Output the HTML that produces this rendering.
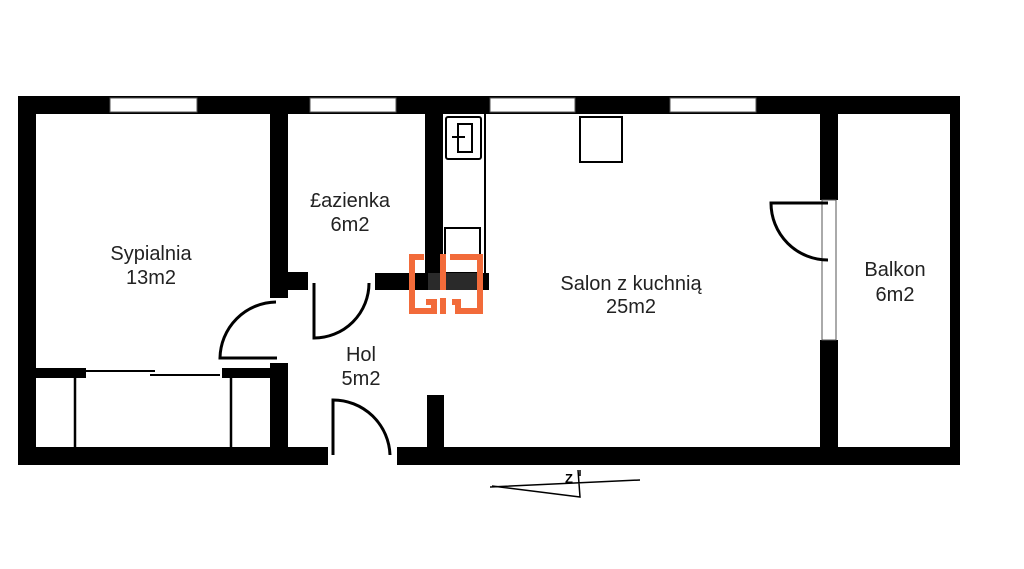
<!DOCTYPE html>
<html><head><meta charset="utf-8"><style>
html,body{margin:0;padding:0;background:#fff;width:1024px;height:569px;overflow:hidden}
svg text{font-family:"Liberation Sans","DejaVu Sans",sans-serif;font-size:20px;fill:#222;text-anchor:middle}
</style></head><body>
<svg width="1024" height="569" viewBox="0 0 1024 569" xmlns="http://www.w3.org/2000/svg">
<g fill="#000">
<rect x="18" y="96" width="942" height="18"/>
<rect x="18" y="96" width="18" height="369"/>
<rect x="18" y="447" width="310" height="18"/>
<rect x="397" y="447" width="563" height="18"/>
<rect x="950" y="96" width="10" height="369"/>
<rect x="270" y="114" width="18" height="184"/>
<rect x="270" y="272" width="38" height="18"/>
<rect x="270" y="363" width="18" height="84"/>
<rect x="425" y="114" width="18" height="176"/>
<rect x="375" y="273" width="114" height="17"/>
<rect x="427" y="395" width="17" height="52"/>
<rect x="820" y="114" width="18" height="86"/>
<rect x="820" y="340" width="18" height="107"/>
<rect x="36" y="368" width="50" height="10"/>
<rect x="222" y="368" width="48" height="10"/>
</g>
<g fill="#fff" stroke="#555" stroke-width="1">
<rect x="110" y="98" width="87" height="14"/>
<rect x="310" y="98" width="86" height="14"/>
<rect x="490" y="98" width="85" height="14"/>
<rect x="670" y="98" width="86" height="14"/>
<rect x="822" y="200" width="14" height="140"/>
</g>
<g fill="none" stroke="#000" stroke-width="2">
<line x1="485" y1="114" x2="485" y2="273"/>
<rect x="446" y="117" width="35" height="42" rx="2"/>
<path d="M458 124 H472 V152 H458 Z M452 137 H465"/>
<rect x="445" y="228" width="35" height="45"/>
<rect x="580" y="117" width="42" height="45"/>
<line x1="86" y1="371" x2="155" y2="371"/>
<line x1="150" y1="375" x2="220" y2="375"/>
<line x1="75" y1="378" x2="75" y2="447" stroke-width="2.5"/>
<line x1="231" y1="378" x2="231" y2="447" stroke-width="2.5"/>
<g stroke-width="3">
<path d="M277 358 H220 A57 57 0 0 1 276 302"/>
<path d="M314 283 V338 A55 55 0 0 0 369 283"/>
<path d="M333 455 V400 A57 57 0 0 1 390 455"/>
<path d="M828 203 H771 A57 57 0 0 0 828 260"/>
</g>
<path d="M490 487 L640 480 M492 486 L580 497 L578 470 M580 476 V470" stroke-width="1.5"/>
</g>
<text x="569" y="483" style="font-size:13px;font-weight:bold;fill:#000">Z</text>
<rect x="428" y="273" width="52" height="17" fill="#2a2a2a"/>
<g fill="none" stroke="#f26b3a" stroke-width="6">
<path d="M424 257 H412 V311 H434 V302 H426"/>
<path d="M443 254 V290 M443 298 V314"/>
<path d="M450 257 H480 V311 H458 V302 H452"/>
</g>
<text x="151" y="260">Sypialnia</text>
<text x="151" y="284">13m2</text>
<text x="350" y="207">£azienka</text>
<text x="350" y="231">6m2</text>
<text x="361" y="361">Hol</text>
<text x="361" y="385">5m2</text>
<text x="631" y="290">Salon z kuchnią</text>
<text x="631" y="313">25m2</text>
<text x="895" y="276">Balkon</text>
<text x="895" y="301">6m2</text>
</svg>
</body></html>
